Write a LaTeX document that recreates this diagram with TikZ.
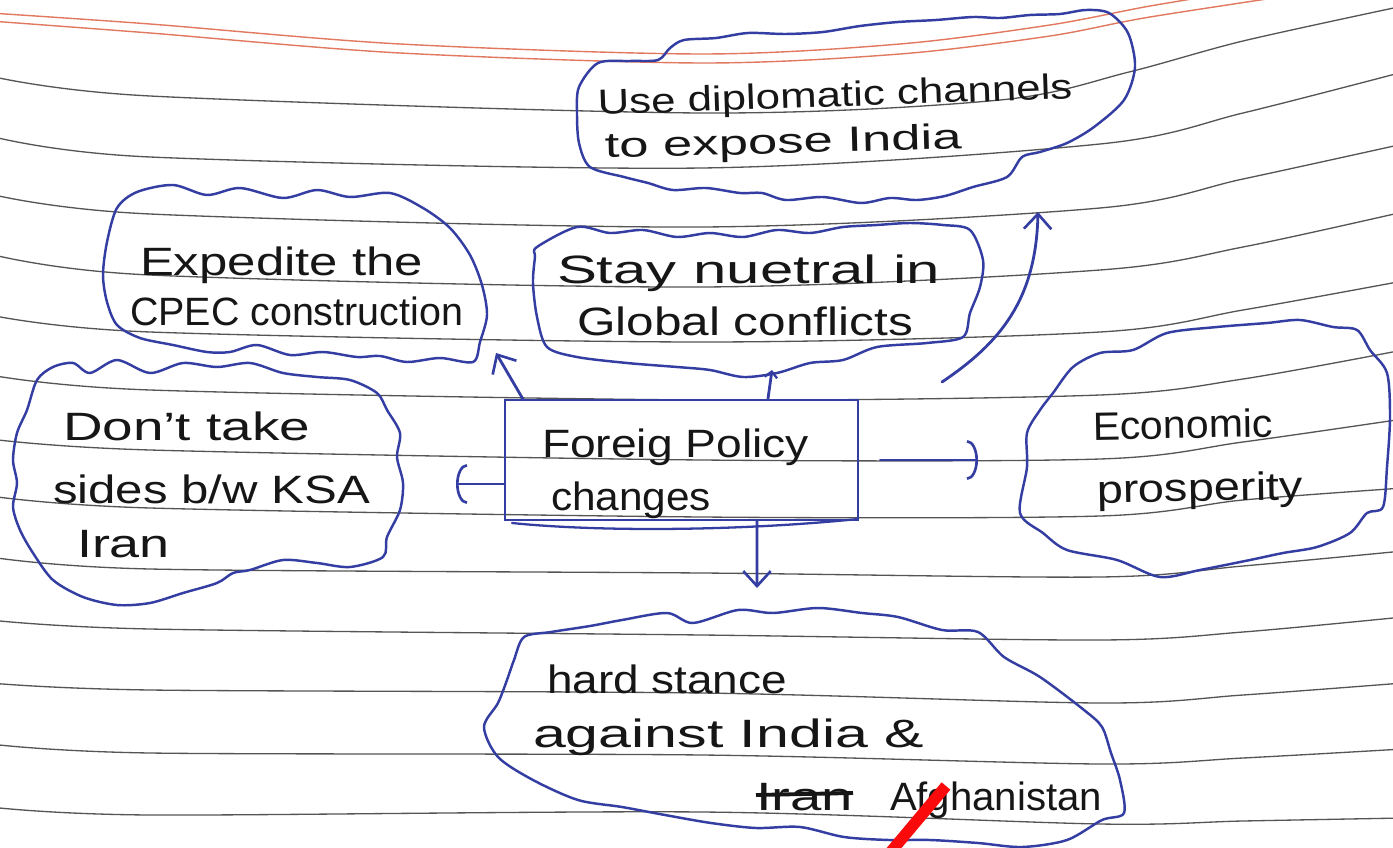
\documentclass[tikz,border=0pt]{standalone}
\usepackage{fontspec}
\setmainfont{Liberation Sans}
\usepackage{graphicx}
\usetikzlibrary{arrows.meta}
\newdimen\pxu \pxu=0.02cm
\newcommand{\hw}[2]{\resizebox{#1\pxu}{\height}{#2}}
\definecolor{pen}{RGB}{52,62,162}
\definecolor{ink}{RGB}{22,22,22}
\definecolor{rulegray}{RGB}{85,85,85}
\definecolor{margin}{RGB}{225,120,95}
\definecolor{redpen}{RGB}{250,10,10}
\tikzset{
  rule/.style={draw=rulegray, line width=0.75pt},
  marginline/.style={draw=margin, line width=0.8pt},
  cloudline/.style={draw=pen, line width=1.4pt, line join=round},
  pen/.style={draw=pen, line width=1.6pt, line cap=round, line join=round},
  txt/.style={anchor=base west, inner sep=0pt, outer sep=0pt, text=ink, font=\fontsize{22.5}{27}\selectfont},
  smalltxt/.style={txt, font=\fontsize{20}{24}\selectfont},
  boxnode/.style={draw=pen, line width=1.5pt, minimum width=7.06cm, minimum height=2.4cm, inner sep=0pt},
  arcbarb/.style={-{Arc Barb[length=0.22cm, width=0.8cm, line width=1.5pt]}},
  barb/.style={-{Straight Barb[length=0.3cm, width=0.55cm, line width=1.5pt]}},
  smallbarb/.style={-{Straight Barb[length=0.12cm, width=0.25cm, line width=1.3pt]}},
}
\begin{document}
\begin{tikzpicture}[x=0.02cm, y=-0.02cm]
\useasboundingbox (0,0) rectangle (1393,848);
\begin{scope}
\clip (0,0) rectangle (1393,848);
\fill[white] (0,0) rectangle (1393,848);
% margin (red) lines
\draw[marginline] plot[smooth] coordinates {(-10,13) (150,24) (400,44) (702,54) (900,44) (1050,25) (1150,6) (1260,-12)};
\draw[marginline] plot[smooth] coordinates {(-10,21) (150,33) (400,53) (702,63) (900,54) (1050,36) (1150,17) (1340,-12)};
% ruled lines
\draw[rule] plot[smooth] coordinates {(-10,76) (150,96) (702,113) (1000,100) (1129,72) (1243,41) (1403,6)};
\draw[rule] plot[smooth] coordinates {(-10,136) (150,157) (702,168) (1100,144) (1243,113) (1403,72)};
\draw[rule] plot[smooth] coordinates {(-10,194) (150,214) (702,227) (1100,208) (1243,179) (1403,144)};
\draw[rule] plot[smooth] coordinates {(-10,254) (150,275) (702,287) (1100,270) (1243,247) (1403,212)};
\draw[rule] plot[smooth] coordinates {(-10,315) (150,332) (702,342) (1100,332) (1243,310) (1403,281)};
\draw[rule] plot[smooth] coordinates {(-10,375) (150,390) (702,400) (1100,395) (1243,379) (1403,350)};
\draw[rule] plot[smooth] coordinates {(-10,439) (150,450) (702,460) (1100,459) (1243,442) (1403,419)};
\draw[rule] plot[smooth] coordinates {(-10,496) (150,508) (702,517) (1100,516) (1243,500) (1403,488)};
\draw[rule] plot[smooth] coordinates {(-10,557) (150,569) (702,573) (1100,577) (1243,566) (1403,551)};
\draw[rule] plot[smooth] coordinates {(-10,620) (150,629) (702,635) (1100,640) (1243,632) (1403,617)};
\draw[rule] plot[smooth] coordinates {(-10,683) (150,690) (702,693) (1100,703) (1243,695) (1403,683)};
\draw[rule] plot[smooth] coordinates {(-10,744) (150,753) (702,755) (1100,764) (1243,758) (1403,749)};
\draw[rule] plot[smooth] coordinates {(-10,807) (150,815) (702,812) (1100,824) (1243,821) (1403,818)};

% cloud 1: use diplomatic channels
\draw[cloudline] plot[smooth cycle, tension=0.5] coordinates {
 (598,63) (630,61) (658,60) (670,48) (684,40) (716,38) (748,33) (786,34) (823,32) (860,26) (898,22) (936,20) (973,17) (1000,18) (1030,15) (1060,14) (1086,10) (1109,13)
 (1128,33) (1135,67) (1124,100) (1094,127) (1067,143) (1040,152) (1022,157) (1007,177)
 (973,187) (945,196) (917,200) (890,198) (861,203) (823,197) (786,200) (762,193) (740,193) (706,188) (673,190) (648,183) (624,177) (590,167)
 (579,143) (577,113) (579,87)};
% cloud 2: expedite
\draw[cloudline] plot[smooth cycle, tension=0.5] coordinates {
 (117,208) (137,192) (173,185) (207,195) (240,188) (283,198) (317,190) (350,197) (390,193) (423,208) (450,228) (470,255) (482,285) (487,315) (480,342) (473,362)
 (440,358) (407,362) (380,356) (357,357) (323,352) (290,355) (257,345) (230,352) (207,352) (173,345) (140,338) (117,325) (107,302) (103,275) (107,242)};
% cloud 3: stay neutral
\draw[cloudline] plot[smooth cycle, tension=0.5] coordinates {
 (537,247) (577,227) (610,233) (643,230) (677,237) (710,233) (743,237) (777,230) (810,233) (843,227) (877,225) (910,223) (943,225) (970,230) (983,260) (980,287) (970,313) (963,337)
 (927,343) (877,347) (843,360) (810,363) (777,373) (743,377) (710,370) (677,367) (627,363) (577,357) (547,347) (537,317) (533,283) (535,257)};
% cloud 4: don't take sides
\draw[cloudline] plot[smooth cycle, tension=0.5] coordinates {
 (37,380) (53,367) (73,363) (90,373) (117,360) (150,373) (183,363) (217,367) (250,363) (283,373) (317,377) (350,380) (377,393) (387,410) (400,433) (397,457) (403,483) (400,510) (387,537) (383,557)
 (350,567) (317,563) (283,560) (250,570) (233,573) (217,583) (183,593) (150,603) (117,605) (83,597) (53,580) (33,553) (20,530) (13,507) (17,483) (13,460) (17,433) (27,410)};
% cloud 5: economic prosperity
\draw[cloudline] plot[smooth cycle, tension=0.5] coordinates {
 (1053,393) (1073,367) (1100,353) (1133,350) (1167,333) (1217,327) (1267,323) (1300,320) (1333,327) (1357,330) (1370,350) (1387,373) (1390,417) (1387,467) (1383,507) (1367,513) (1350,533) (1317,547) (1283,553) (1250,560) (1200,570) (1160,577) (1117,560) (1067,550) (1043,533) (1020,513) (1027,467) (1027,433) (1040,410)};
% cloud 6: hard stance
\draw[cloudline] plot[smooth cycle, tension=0.5] coordinates {
 (524,637) (551,632) (590,626) (622,620) (667,613) (693,623) (738,610) (773,613) (818,608) (862,613) (898,617) (942,630) (978,632) (1004,657) (1040,677) (1084,710) (1102,727) (1111,753) (1120,780) (1124,813) (1102,820) (1067,840) (1022,847) (978,843) (930,840) (889,840) (844,837) (800,827) (756,828) (711,823) (665,815) (622,807) (578,800) (533,780) (498,757) (484,727) (498,703) (507,680) (514,660)};

% central box
\node[boxnode] (fp) at (681.5,460) {};
\draw[pen, line width=1.3pt] (512,523) .. controls (600,532) and (740,531) .. (858,519);

% texts
\node[smalltxt, rotate=2] (t1a) at (598,115) {\hw{475}{Use diplomatic channels}};
\node[smalltxt, rotate=1.5] (t1b) at (605,158) {\hw{357}{to expose India}};
\node[txt] (t2a) at (140,275) {\hw{283}{Expedite the}};
\node[txt] (t2b) at (130,325) {\hw{333}{CPEC construction}};
\node[txt] (t3a) at (557,283) {\hw{383}{Stay nuetral in}};
\node[txt] (t3b) at (577,335) {\hw{336}{Global conflicts}};
\node[txt] (t4a) at (63,440) {\hw{247}{Don't take}};
\node[txt] (t4b) at (53,503) {\hw{317}{sides b/w KSA}};
\node[txt] (t4c) at (77,557) {\hw{93}{Iran}};
\node[txt] (t0a) at (542,457) {\hw{267}{Foreig Policy}};
\node[txt] (t0b) at (551,510) {\hw{160}{changes}};
\node[txt, rotate=1] (t5a) at (1093,440) {\hw{180}{Economic}};
\node[txt, rotate=1] (t5b) at (1097,503) {\hw{206}{prosperity}};
\node[txt] (t6a) at (547,693) {\hw{240}{hard stance}};
\node[txt] (t6b) at (533,747) {\hw{391}{against India \&}};
\node[txt] (t6c) at (756,810) {\hw{97}{Iran}};
\node[txt] (t6d) at (890,810) {\hw{212}{Afghanistan}};
\draw[draw=ink, line width=2.2pt] ([yshift=0.3cm]t6c.base west) -- ([yshift=0.34cm]t6c.base east);

% connector end points
\coordinate (eL) at (456,484);
\coordinate (eUL) at (496,353);
\coordinate (eU) at (772,370);
\coordinate (eR) at (978,460);
\coordinate (eD) at (757,588);
\coordinate (c3e) at (942,382);
\coordinate (c1s) at (1038,212);

% connectors
\draw[pen, arcbarb] (fp.west |- eL) -- (eL);
\draw[pen, barb] ([xshift=0.38cm]fp.north west) -- (eUL);
\draw[pen, smallbarb] ([xshift=1.73cm]fp.north) -- (eU);
\draw[pen, arcbarb] ([xshift=0.42cm]fp.east) -- (eR);
\draw[pen, barb] ([xshift=1.51cm]fp.south) -- (eD);
\draw[pen, barb] (c3e) .. controls (1000,343) and (1036,300) .. (c1s);

% red pen stroke
\draw[draw=redpen, line width=6.5pt] (946,786) -- (884,860);
\end{scope}
\end{tikzpicture}
\end{document}
